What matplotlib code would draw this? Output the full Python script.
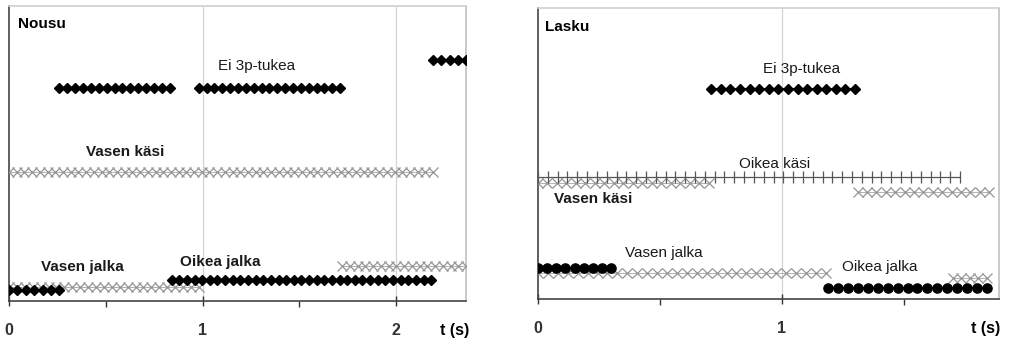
import numpy as np
import matplotlib
matplotlib.use("Agg")
import matplotlib.pyplot as plt

plt.rcParams["font.family"] = ["Liberation Sans", "DejaVu Sans"]

STEP = 0.04  # sampling interval (s)

# ---- Nousu (left panel): intervals (start, end) in seconds and row levels ----
nousu_ei3p = [(0.26, 0.83), (0.98, 1.71)]
nousu_ei3p_level = 72.2
nousu_ei3p_top = [(2.19, 2.36)]
nousu_ei3p_top_level = 81.7
nousu_vasen_kasi = [(0.0, 2.19)]
nousu_vasen_kasi_level = 43.7
nousu_vasen_jalka_x = [(0.0, 0.98)]
nousu_vasen_jalka_x_level = 4.7
nousu_vasen_jalka_dot = [(0.0, 0.26)]
nousu_vasen_jalka_dot_level = 3.6
nousu_oikea_jalka_dot = [(0.84, 2.18)]
nousu_oikea_jalka_dot_level = 7.1
nousu_oikea_jalka_x = [(1.72, 2.36)]
nousu_oikea_jalka_x_level = 11.9

# ---- Lasku (right panel) ----
lasku_ei3p = [(0.71, 1.30)]
lasku_ei3p_level = 72.0
lasku_oikea_kasi = [(0.0, 1.73)]
lasku_oikea_kasi_level = 42.0
lasku_vasen_kasi = [(0.0, 0.70)]
lasku_vasen_kasi_level = 39.8
lasku_vasen_kasi2 = [(1.31, 1.85)]
lasku_vasen_kasi2_level = 36.8
lasku_vasen_jalka_dot = [(0.0, 0.30)]
lasku_vasen_jalka_dot_level = 10.8
lasku_vasen_jalka_x = [(0.0, 1.18)]
lasku_vasen_jalka_x_level = 8.8
lasku_oikea_jalka_dot = [(1.19, 1.84)]
lasku_oikea_jalka_dot_level = 3.8
lasku_oikea_jalka_x = [(1.70, 1.84)]
lasku_oikea_jalka_x_level = 7.2

W, H = 1009, 345
fig = plt.figure(figsize=(W / 100, H / 100), dpi=100)
fig.patch.set_facecolor("white")

GRAY = "#959595"


def samples(a, b):
    n = int(round((b - a) / STEP)) + 1
    return np.linspace(a, b, n)


def draw(ax, intervals, level, kind):
    for a, b in intervals:
        t = samples(a, b)
        y = np.full_like(t, level)
        if kind == "diamond":
            ln, = ax.plot(t, y, color="black", lw=1.4, marker="D", ms=4.6, mfc="black", mec="black", zorder=4)
        elif kind == "dot":
            ln, = ax.plot(t, y, color="black", lw=1.4, marker="o", ms=6.6, mfc="black", mec="black", zorder=4)
        elif kind == "xgray":
            ln, = ax.plot(t, y, color=GRAY, lw=0.5, marker="x", ms=6.5, mew=0.9, mec=GRAY, zorder=3)
        else:
            ln, = ax.plot(t, y, color="#555555", lw=0.9, marker="|", ms=8.0, mew=0.9, mec="#555555", zorder=3)


def style(ax, xmax, majors):
    ax.set_xlim(0, xmax)
    ax.set_ylim(0, 100)
    ax.set_yticks([])
    ax.set_xticks(majors)
    ax.set_xticklabels([str(m) for m in majors], fontsize=11.5, fontweight="bold")
    ax.set_xticks([m + 0.5 for m in majors if m + 0.5 < xmax], minor=True)
    ax.tick_params(axis="x", which="major", direction="inout", length=7, width=1.0, pad=12, colors="#333333")
    ax.tick_params(axis="x", which="minor", direction="out", length=4, width=1.0, colors="#333333")
    for m in majors[1:]:
        ax.axvline(m, color="#d4d4d4", lw=0.9, zorder=1)
    ax.spines["left"].set_color("#444444")
    ax.spines["left"].set_linewidth(1.2)
    ax.spines["bottom"].set_color("#444444")
    ax.spines["bottom"].set_linewidth(1.2)
    ax.spines["top"].set_color("#d0d0d0")
    ax.spines["right"].set_color("#c0c0c0")
    ax.spines["right"].set_linewidth(1.2)
    ax.spines["top"].set_linewidth(1.2)


def pxbox(x0, y0, x1, y1):
    return [x0 / W, (H - y1) / H, (x1 - x0) / W, (y1 - y0) / H]


# Left panel
ax1 = fig.add_axes(pxbox(9, 6, 466, 301))
style(ax1, 2.36, [0, 1, 2])
draw(ax1, nousu_vasen_kasi, nousu_vasen_kasi_level, "xgray")
draw(ax1, nousu_vasen_jalka_x, nousu_vasen_jalka_x_level, "xgray")
draw(ax1, nousu_oikea_jalka_x, nousu_oikea_jalka_x_level, "xgray")
draw(ax1, nousu_ei3p, nousu_ei3p_level, "diamond")
draw(ax1, nousu_ei3p_top, nousu_ei3p_top_level, "diamond")
draw(ax1, nousu_vasen_jalka_dot, nousu_vasen_jalka_dot_level, "diamond")
draw(ax1, nousu_oikea_jalka_dot, nousu_oikea_jalka_dot_level, "diamond")

tk = dict(fontsize=11, color="#1a1a1a")
ax1.text(0.02, 0.94, "Nousu", transform=ax1.transAxes, fontsize=11, fontweight="bold", va="center", ha="left")
ax1.text(1.28, 79.5, "Ei 3p-tukea", ha="center", va="center", **tk)
ax1.text(0.60, 50.5, "Vasen käsi", ha="center", va="center", fontweight="bold", **tk)
ax1.text(0.38, 11.5, "Vasen jalka", ha="center", va="center", fontweight="bold", **tk)
ax1.text(1.09, 13.2, "Oikea jalka", ha="center", va="center", fontweight="bold", **tk)
ax1.text(2.30, -10.0, "t (s)", ha="center", va="center", fontsize=11.5, fontweight="bold", clip_on=False)

# Right panel
ax2 = fig.add_axes(pxbox(538, 8, 999, 299))
style(ax2, 1.89, [0, 1])
draw(ax2, lasku_vasen_kasi, lasku_vasen_kasi_level, "xgray")
draw(ax2, lasku_vasen_kasi2, lasku_vasen_kasi2_level, "xgray")
draw(ax2, lasku_vasen_jalka_x, lasku_vasen_jalka_x_level, "xgray")
draw(ax2, lasku_oikea_jalka_x, lasku_oikea_jalka_x_level, "xgray")
draw(ax2, lasku_oikea_kasi, lasku_oikea_kasi_level, "plus")
draw(ax2, lasku_ei3p, lasku_ei3p_level, "diamond")
draw(ax2, lasku_vasen_jalka_dot, lasku_vasen_jalka_dot_level, "dot")
draw(ax2, lasku_oikea_jalka_dot, lasku_oikea_jalka_dot_level, "dot")

ax2.text(0.016, 0.935, "Lasku", transform=ax2.transAxes, fontsize=11, fontweight="bold", va="center", ha="left")
ax2.text(1.08, 79.0, "Ei 3p-tukea", ha="center", va="center", **tk)
ax2.text(0.97, 46.5, "Oikea käsi", ha="center", va="center", **tk)
ax2.text(0.225, 34.4, "Vasen käsi", ha="center", va="center", fontweight="bold", **tk)
ax2.text(0.516, 15.8, "Vasen jalka", ha="center", va="center", **tk)
ax2.text(1.40, 11.0, "Oikea jalka", ha="center", va="center", **tk)
ax2.text(1.836, -10.0, "t (s)", ha="center", va="center", fontsize=11.5, fontweight="bold", clip_on=False)

fig.savefig("out.png", dpi=100, facecolor="white")
